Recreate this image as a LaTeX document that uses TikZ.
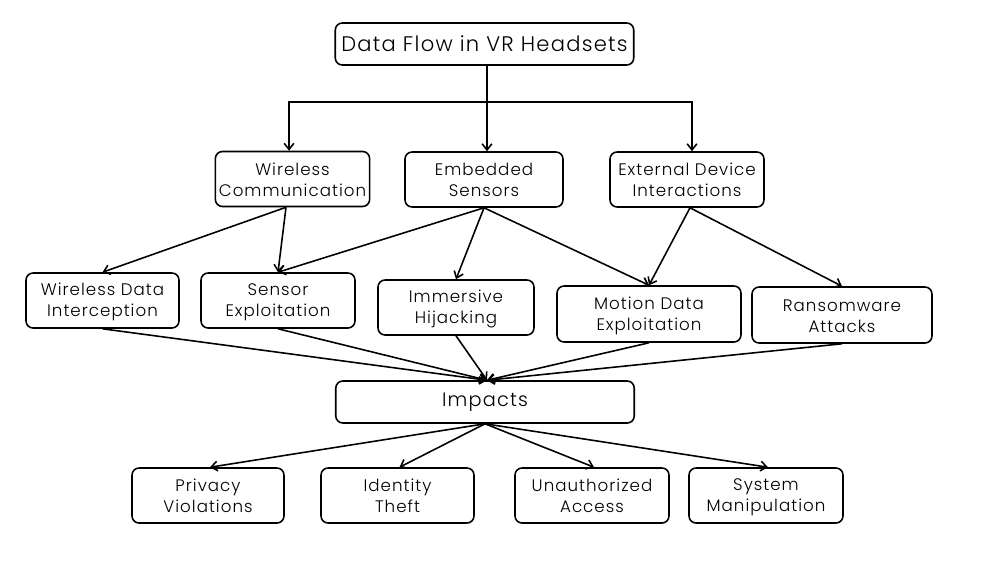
\documentclass[tikz,border=0pt]{standalone}
\usepackage{fontspec}
\setmainfont{Poppins}[UprightFont=* Light, LetterSpace=6.0]
\usetikzlibrary{arrows.meta}

\newcommand{\linestrut}{\rule[-1.5pt]{0pt}{10.7pt}}
\newcommand{\twoline}[2]{\linestrut#1\\\linestrut#2}

\tikzset{
  box/.style={draw, rounded corners=4pt, line width=0.9pt, align=center,
    minimum height=1.1cm, inner sep=2pt, font=\fontsize{9.5}{12}\selectfont},
  headbox/.style={box, minimum height=0.84cm, minimum width=5.97cm},
  flow/.style={-{Straight Barb[length=3.5pt,width=5.5pt]}, line width=0.9pt},
  link/.style={line width=0.9pt}
}

\begin{document}
\begin{tikzpicture}[x=0.02cm, y=-0.02cm]

    % Fix the canvas
    \useasboundingbox (0,0) rectangle (986,572);

    % Draw the title box
    \node[headbox, font=\fontsize{12}{14}\selectfont] (title) at (484.5,44) {Data Flow in VR Headsets};

    % Draw the data sources
    \node[box, minimum width=3.06cm] (wc) at (292.5,179) {\twoline{Wireless}{Communication}};
    \node[box, minimum width=3.16cm] (es) at (484,179.5) {\twoline{Embedded}{Sensors}};
    \node[box, minimum width=3.08cm] (edi) at (687,179.5) {\twoline{External Device}{Interactions}};

    % Draw the attacks
    \node[box, minimum width=3.06cm] (wdi) at (102.5,300.5) {\twoline{Wireless Data}{Interception}};
    \node[box, minimum width=3.08cm] (se) at (278,300.5) {\twoline{Sensor}{Exploitation}};
    \node[box, minimum width=3.12cm] (ih) at (456,307.5) {\twoline{Immersive}{Hijacking}};
    \node[box, minimum width=3.68cm, minimum height=1.12cm] (mde) at (649,314) {\twoline{Motion Data}{Exploitation}};
    \node[box, minimum width=3.6cm, minimum height=1.12cm] (ra) at (842,315) {\twoline{Ransomware}{Attacks}};

    % Draw the impacts box
    \node[headbox, font=\fontsize{11}{13}\selectfont] (imp) at (485,402) {Impacts};

    % Draw the consequences
    \node[box, minimum width=3.04cm] (pv) at (208,495.5) {\twoline{Privacy}{Violations}};
    \node[box, minimum width=3.06cm] (it) at (397.5,495.5) {\twoline{Identity}{Theft}};
    \node[box, minimum width=3.08cm] (ua) at (592,495.5) {\twoline{Unauthorized}{Access}};
    \node[box, minimum width=3.08cm] (sm) at (766,495.5) {\twoline{System}{Manipulation}};

    % Draw the split under the title
    \coordinate (split) at (487,102);
    \draw[link] (title.south -| split) -- (split);
    \draw[flow] (split) -| ([xshift=-0.07cm]wc.north);
    \draw[flow] (split) -- (split |- es.north);
    \draw[flow] (split) -| ([xshift=0.1cm]edi.north);

    % Draw the source to attack arrows
    \draw[flow] ([xshift=-0.13cm]wc.south) -- (wdi.north);
    \draw[flow] ([xshift=-0.13cm]wc.south) -- (se.north);
    \draw[flow] (es.south) -- (se.north);
    \draw[flow] (es.south) -- (ih.north);
    \draw[flow] (es.south) -- (mde.north);
    \draw[flow] ([xshift=0.06cm]edi.south) -- (mde.north);
    \draw[flow] ([xshift=0.06cm]edi.south) -- (ra.north);

    % Draw the attack to impact arrows
    \foreach \n in {wdi,se,ih,mde,ra}
      \draw[flow] (\n.south) -- ([xshift=0.04cm]imp.north);

    % Draw the impact to consequence arrows
    \foreach \n in {pv,it,ua,sm}
      \draw[flow] (imp.south) -- ([xshift=0.04cm]\n.north);
\end{tikzpicture}
\end{document}
